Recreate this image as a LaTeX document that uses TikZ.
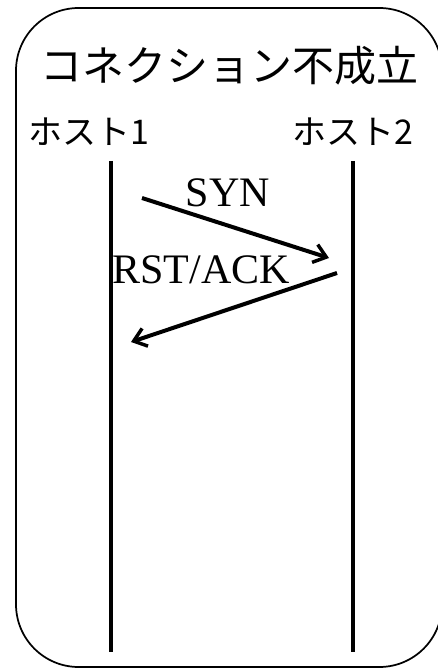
\documentclass[tikz,border=0pt]{standalone}
\usepackage{fontspec}
\setmainfont{Liberation Serif}
\newfontfamily\jpfont{Noto Sans CJK JP}
\usetikzlibrary{arrows.meta}
\begin{document}
\begin{tikzpicture}[x=0.75pt,y=-0.75pt,
  frame/.style={draw=black,line width=1.3pt,rounded corners=47pt},
  lifeline/.style={draw=black,line width=2.4pt},
  msg/.style={draw=black,line width=3pt,-{Straight Barb[length=9pt,width=14pt,line width=2.6pt]}},
  title/.style={font=\jpfont\fontsize{31.5pt}{36pt}\selectfont,inner sep=0pt},
  host/.style={font=\jpfont\fontsize{25.5pt}{29pt}\selectfont,inner sep=0pt},
  label/.style={font=\fontsize{31.5pt}{35pt}\selectfont,inner sep=0pt}]
  \useasboundingbox (0,0) rectangle (438,670);
  % outer frame
  \draw[frame] (16,8) rectangle (442,667);
  % headings
  \node[title] (ttl) at (229,66) {コネクション不成立};
  \node[host] (h1) at (89,132) {ホスト1};
  \node[host] (h2) at (353,132) {ホスト2};
  % lifelines
  \coordinate (l1top) at (111,161);
  \coordinate (l1bot) at (111,652);
  \coordinate (l2top) at (353,161);
  \coordinate (l2bot) at (353,652);
  \draw[lifeline] (l1top) -- (l1bot);
  \draw[lifeline] (l2top) -- (l2bot);
  % messages
  \coordinate (synA) at (142,198);
  \coordinate (synB) at (329,258);
  \coordinate (rstA) at (337,273);
  \coordinate (rstB) at (131,342);
  \draw[msg] (synA) -- (synB);
  \draw[msg] (rstA) -- (rstB);
  \node[label] (syn) at (228,193) {SYN};
  \node[label] (rst) at (201,270) {RST/ACK};
\end{tikzpicture}
\end{document}
